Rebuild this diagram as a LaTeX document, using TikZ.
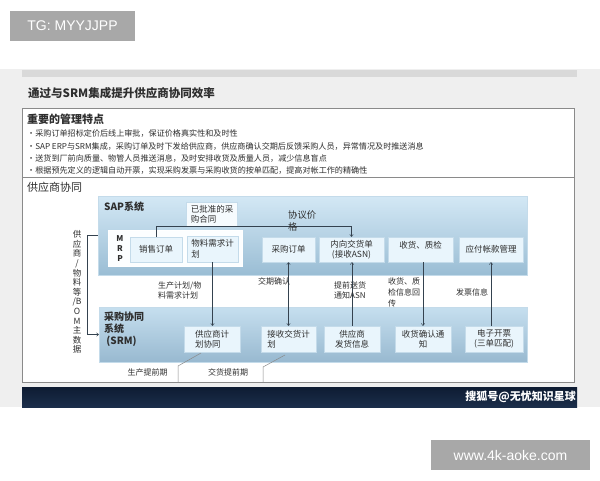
\documentclass[tikz,border=0pt]{standalone}
\usepackage{fontspec}
\setmainfont{Noto Sans CJK SC}
\newfontfamily\latf{Liberation Sans}
\usetikzlibrary{arrows.meta}
\definecolor{bgray}{HTML}{EFEFEF}
\definecolor{barg}{HTML}{D9D9D9}
\definecolor{frameg}{HTML}{8A8A8A}
\definecolor{wmark}{HTML}{A8A8A8}
\definecolor{navytop}{HTML}{0E1C33}
\definecolor{navybot}{HTML}{1B2E4A}
\definecolor{saptop}{HTML}{D3E8F5}
\definecolor{sapbot}{HTML}{9ABDD4}
\definecolor{srmtop}{HTML}{C6DFEF}
\definecolor{srmbot}{HTML}{98B9D0}
\definecolor{boxfill}{HTML}{E9F5FC}
\definecolor{boxline}{HTML}{C4DBEA}
\definecolor{txt}{HTML}{2E2E2E}
\definecolor{lne}{HTML}{34424F}
\begin{document}
\begin{tikzpicture}[x=1pt,y=-1pt,
  sysbox/.style={rectangle,draw=boxline,line width=0.4pt},
  wbox/.style={rectangle,fill=boxfill,draw=boxline,line width=0.5pt,inner sep=1pt,
    text=txt,font=\fontsize{8.5}{10.5}\selectfont},
  lbl/.style={inner sep=0pt,text=txt,font=\fontsize{8}{10}\selectfont,align=left},
  conn/.style={draw=lne,line width=0.5pt},
  arr/.style={conn,-{To[length=2.5pt,width=4pt]}},
  darr/.style={conn,{To[length=2.5pt,width=4pt]}-{To[length=2.5pt,width=4pt]}},
  hdr/.style={inner sep=0pt,anchor=west,text=txt},
  bul/.style={hdr,font=\fontsize{8.1}{9.5}\selectfont}
]
\useasboundingbox (0,0) rectangle (600,480);
% backgrounds
\fill[white] (0,0) rectangle (600,480);
\fill[bgray] (0,69) rectangle (600,407);
\fill[barg] (22,70) rectangle (577,77);
% watermark boxes
\node[fill=wmark,minimum width=125,minimum height=30,inner sep=0pt,text=white,
  font=\latf\fontsize{14}{16}\selectfont] (tg) at (72.5,25.5) {TG: MYYJJPP};
\node[fill=wmark,minimum width=159,minimum height=30,inner sep=0pt,text=white,
  font=\latf\fontsize{14}{16}\selectfont] (www) at (510.5,455) {www.4k-aoke.com};
% title
\node[hdr,font=\bfseries\fontsize{11.5}{13}\selectfont] (title) at (28,93) {通过与SRM集成提升供应商协同效率};
% frames
\draw[frameg,fill=white,line width=0.6pt] (22,108) rectangle (574,177);
\draw[frameg,fill=white,line width=0.6pt] (22,177) rectangle (574,382);
% management points
\node[hdr,font=\bfseries\fontsize{11}{13}\selectfont] (mgt) at (27,119) {重要的管理特点};
\node[bul] (b1) at (27,133) {•采购订单招标定价后线上审批，保证价格真实性和及时性};
\node[bul] (b2) at (27,146) {•SAP ERP与SRM集成，采购订单及时下发给供应商，供应商确认交期后反馈采购人员，异常情况及时推送消息};
\node[bul] (b3) at (27,158) {•送货到厂前向质量、物管人员推送消息，及时安排收货及质量人员，减少信息盲点};
\node[bul] (b4) at (27,170) {•根据预先定义的逻辑自动开票，实现采购发票与采购收货的按单匹配，提高对帐工作的精确性};
\node[hdr,font=\fontsize{11}{13}\selectfont] (gyxt) at (27,187) {供应商协同};
% system boxes
\node[sysbox,top color=saptop,bottom color=sapbot,minimum width=429,minimum height=79] (sap) at (312.5,235.5) {};
\node[sysbox,top color=srmtop,bottom color=srmbot,minimum width=428,minimum height=55] (srm) at (313,334.5) {};
\node[hdr,font=\bfseries\fontsize{10}{12}\selectfont] (saplbl) at (104,207) {SAP系统};
\node[hdr,font=\bfseries\fontsize{10}{12}\selectfont,align=left] (srmlbl) at (104,329) {采购协同\\系统\\\ (SRM)};
% MRP area
\node[rectangle,fill=white!85!boxfill,draw=white,minimum width=134,minimum height=36,inner sep=0pt] (mrp) at (175,248) {};
\node[inner sep=0pt,text=txt,font=\bfseries\fontsize{8}{10}\selectfont,align=center] (mrplbl) at (120,249) {M\\R\\P};
\node[wbox,minimum width=52,minimum height=25,align=center] (xsdd) at (156,249.5) {销售订单};
\node[wbox,minimum width=51,minimum height=26,align=left] (wlxq) at (212.5,249) {物料需求计\\划};
\node[wbox,fill=white!60!boxfill,minimum width=51,minimum height=24,align=left] (ypz) at (212,214.5) {已批准的采\\购合同};
% SAP row
\node[wbox,minimum width=53,minimum height=25,align=center] (cgdd) at (288.5,249.5) {采购订单};
\node[wbox,minimum width=65,minimum height=25,align=center] (nxjh) at (351.5,249.5) {内向交货单\\(接收ASN)};
\node[wbox,minimum width=65,minimum height=25] (shzj) at (420.5,249.5) {};
\node[inner sep=0pt,text=txt,font=\fontsize{8.5}{10.5}\selectfont] (shzjt) at (420.5,245) {收货、质检};
\node[wbox,minimum width=64,minimum height=25,align=center] (yfzk) at (491,249.5) {应付帐款管理};
% SRM row
\node[wbox,minimum width=56,minimum height=26,align=left] (gysjh) at (212,339) {供应商计\\划协同};
\node[wbox,minimum width=55,minimum height=26,align=left] (jsjh) at (288.5,339) {接收交货计\\划};
\node[wbox,minimum width=56,minimum height=26,align=center] (gysfh) at (352,339) {供应商\\发货信息};
\node[wbox,minimum width=56,minimum height=26,align=center] (shqr) at (423,339) {收货确认通\\知};
\node[wbox,minimum width=58,minimum height=26,align=center] (dzkp) at (494,339) {电子开票\\(三单匹配)};
% connectors
\draw[arr] (xsdd.north) -- ++(0,-11) -| (nxjh.north);
\draw[arr] (wlxq.south) -- (wlxq.south |- gysjh.north);
\draw[darr] (cgdd.south) -- (jsjh.north);
\draw[arr] (gysfh.north) -- (gysfh.north |- nxjh.south);
\draw[arr] (shqr.north |- shzj.south) -- (shqr.north);
\draw[arr] (yfzk.south |- dzkp.north) -- (yfzk.south);
\draw[arr] (sap.west) -- ++(-11,0) |- (srm.west);
% connector labels
\node[lbl,font=\fontsize{9.3}{12}\selectfont,anchor=north west] (xyjg) at (288,210) {协议价\\格};
\node[lbl,anchor=north west] (scjh) at (158,282) {生产计划/物\\料需求计划};
\node[lbl,anchor=north west] (jqqr) at (258,278) {交期确认};
\node[lbl,anchor=north west] (tqsh) at (334,282) {提前送货\\通知ASN};
\node[lbl,font=\fontsize{8}{10.7}\selectfont,anchor=north west] (shzl) at (388,278) {收货、质\\检信息回\\传};
\node[lbl,anchor=north west] (fpxx) at (456,288) {发票信息};
\node[lbl,font=\fontsize{8.5}{9.6}\selectfont,align=center] (vlbl) at (77,292)
  {供\\应\\商\\/\\物\\料\\等\\/B\\O\\M\\主\\数\\据};
% lead-time markers
\coordinate (l1a) at (201,353);
\coordinate (l1b) at (178,366);
\coordinate (l1c) at (178,382);
\coordinate (l2a) at (285,355);
\coordinate (l2b) at (263,367);
\coordinate (l2c) at (263,382);
\draw[conn,draw=frameg] (l1a) -- (l1b) -- (l1c);
\draw[conn,draw=frameg] (l2a) -- (l2b) -- (l2c);
\node[lbl] (sctq) at (147.5,372) {生产提前期};
\node[lbl] (jhtq) at (228,372) {交货提前期};
% footer
\fill[top color=navytop,bottom color=navybot] (22,387) rectangle (577,407);
\node[inner sep=0pt,anchor=east,text=white,font=\bfseries\fontsize{11}{13}\selectfont] (sohu) at (576,396.5) {搜狐号@无忧知识星球};
\end{tikzpicture}
\end{document}
